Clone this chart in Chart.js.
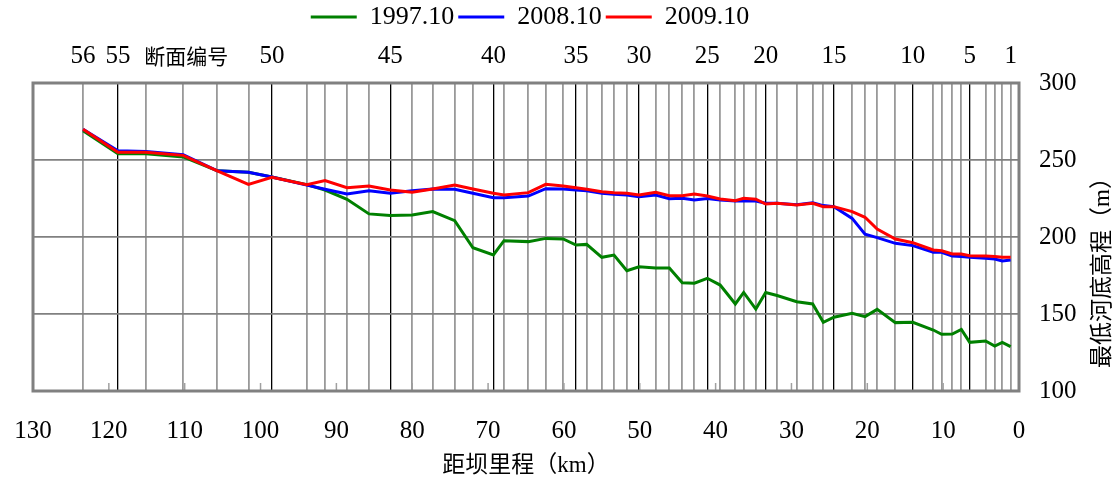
<!DOCTYPE html>
<html>
<head>
<meta charset="utf-8">
<script src="https://cdn.jsdelivr.net/npm/chart.js@4/dist/chart.umd.min.js"></script>
<style>
    body { margin: 0; background: #fff; }
</style>
</head>
<body>
<canvas id="chart1" width="1118" height="484"></canvas>
<script>
// Section numbers and their distance from the dam (km)
let sectionNo = [56,55,54,53,52,51,50,49,48,47,46,45,44,43,42,41,40,39,38,37,36,35,34,33,32,31,30,29,28,27,26,25,24,23,22,21,20,19,18,17,16,15,14,13,12,11,10,9,8,7,6,5,4,3,2,1];
let sectionKm = [123.4,118.8,115.1,110.2,105.7,101.6,98.5,93.9,91.5,88.6,85.7,82.9,80.0,77.3,74.4,72.0,69.3,67.9,64.7,62.4,60.1,58.4,57.0,55.0,53.4,51.7,50.1,47.9,46.1,44.4,42.8,41.1,39.4,37.4,36.3,34.7,33.4,31.9,29.3,27.2,25.8,24.4,22.0,20.3,18.7,16.3,14.0,11.3,10.2,8.8,7.6,6.5,4.4,3.2,2.2,1.1];
let labeledSections = [56,55,50,45,40,35,30,25,20,15,10,5,1];
let sectionTitle = '断面编号';
let sectionTitleKm = 109.8;

// Lowest river bed elevation (m)
let seriesNames = ['1997.10','2008.10','2009.10'];
let bed1997 = [269,254,254,252,243,242,239,234,230.5,224.5,215,214,214.3,216.5,210.6,193,188.3,197.6,197,199.1,198.7,194.8,195.2,186.8,188.3,178.1,180.7,179.9,179.9,170.3,170,173.2,168.8,156.5,164,153.2,163.9,162,158,156.5,144.6,147.9,150.4,148.3,153,144.4,144.6,139.6,136.8,137,140,131.6,132.5,129.2,131.6,128.8];
let bed2008 = [270,256,255.5,253.5,243,242,239,233.7,231,228,230,228.4,230,231.2,231,228.4,225.5,225.5,226.6,231.4,231.2,230.5,230,228.4,227.7,227.3,226.2,227.3,224.9,225.1,224,225,224,223.4,223.6,223.4,221.9,221.9,221,222.2,220.4,219.7,212.1,201.8,199.6,195.9,194.4,190.1,190.1,187.7,187.3,186.8,186.2,185.7,184.4,185];
let bed2009 = [270,255,255,253,243,234.2,238.8,234,236.6,232,233.1,230.5,229,231.2,233.8,231.2,228.4,227.3,228.8,234.2,233.1,232,231,229.4,228.8,228.4,227.3,229,226.8,226.8,227.9,226.6,224.7,223.6,225.1,224.5,221.4,221.9,220.8,221.9,219.7,219.7,216.5,212.8,205.2,198.7,196.3,191.6,191.1,189,189,187.9,187.7,187.3,186.8,186.8];

let xTicks = [130,120,110,100,90,80,70,60,50,40,30,20,10,0];
let yTicks = [100,150,200,250,300];

let serif = "'Liberation Serif', 'Noto Sans CJK SC', serif";
Chart.defaults.font.family = serif;
Chart.defaults.color = '#000';

function toPoints(vals){
    return sectionKm.map((k, i) => ({x: k, y: vals[i]}));
}

function sectionAt(v){
    let i = sectionKm.indexOf(v);
    return i < 0 ? null : sectionNo[i];
}

// Frame, inner tick marks and the right hand title
let framePlugin = {
    id: 'frame',
    afterLayout(chart){
        // centre the legend over the plot, not the canvas
        let a = chart.chartArea;
        chart.legend.left = a.left;
        chart.legend.right = a.right + 8;
    },
    afterDraw(chart){
        let ctx = chart.ctx;
        let a = chart.chartArea;
        let x = chart.scales.x;
        ctx.save();
        ctx.strokeStyle = '#a0a0a0';
        ctx.lineWidth = 1.5;
        for(let v of xTicks){
            let px = x.getPixelForValue(v);
            ctx.beginPath();
            ctx.moveTo(px, a.bottom);
            ctx.lineTo(px, a.bottom - 8);
            ctx.stroke();
        }
        ctx.strokeStyle = '#808080';
        ctx.lineWidth = 3;
        ctx.strokeRect(a.left, a.top, a.right - a.left, a.bottom - a.top);

        ctx.translate(1103, 267);
        ctx.rotate(-Math.PI / 2);
        ctx.fillStyle = '#000';
        ctx.font = '23px ' + serif;
        ctx.textAlign = 'center';
        ctx.textBaseline = 'middle';
        ctx.fillText('最低河底高程（m）', 0, 0);
        ctx.restore();
    }
};

let ctx1 = document.getElementById('chart1');
let chart1 = new Chart(ctx1, {
    type: 'line',
    data: {
        datasets: [{
            label: seriesNames[0],
            data: toPoints(bed1997),
            borderColor: '#008000',
            backgroundColor: '#008000',
            order: 3
        },{
            label: seriesNames[1],
            data: toPoints(bed2008),
            borderColor: '#0000ff',
            backgroundColor: '#0000ff',
            order: 2
        },{
            label: seriesNames[2],
            data: toPoints(bed2009),
            borderColor: '#ff0000',
            backgroundColor: '#ff0000',
            order: 1
        }]
    },
    options: {
        responsive: false,
        animation: false,
        layout: { padding: { left: 33, right: 0, top: 0, bottom: 0 } },
        elements: {
            point: { radius: 0 },
            line: { borderWidth: 3, tension: 0, fill: false }
        },
        plugins: {
            legend: {
                display: true,
                position: 'top',
                labels: {
                    boxWidth: 46,
                    boxHeight: 3,
                    font: { size: 26 },
                    color: '#000',
                    padding: 4,
                    sort: (a, b) => a.datasetIndex - b.datasetIndex,
                    generateLabels: chart => {
                        let items = Chart.defaults.plugins.legend.labels.generateLabels(chart);
                        for(let it of items){
                            it.fillStyle = it.strokeStyle;
                            it.lineWidth = 0;
                        }
                        return items;
                    }
                }
            },
            tooltip: { enabled: false }
        },
        scales: {
            x: {
                type: 'linear',
                position: 'bottom',
                min: 0,
                max: 130,
                reverse: true,
                afterBuildTicks: s => { s.ticks = xTicks.map(v => ({value: v})); },
                afterFit: s => { s.height = 93; s.paddingLeft = 0; s.paddingRight = 0; },
                ticks: { font: { size: 25 }, padding: 25, maxRotation: 0, autoSkip: false },
                grid: { display: false, drawTicks: false },
                border: { display: false },
                title: {
                    display: true,
                    text: '距坝里程（km）',
                    font: { size: 23 },
                    padding: { top: 0, bottom: 4 }
                }
            },
            x2: {
                type: 'linear',
                position: 'top',
                min: 0,
                max: 130,
                reverse: true,
                afterBuildTicks: s => {
                    s.ticks = sectionKm.concat([sectionTitleKm]).map(v => ({value: v}));
                },
                afterFit: s => { s.height -= 11; s.paddingLeft = 0; s.paddingRight = 0; },
                ticks: {
                    font: c => ({ size: (c.tick && c.tick.value === sectionTitleKm) ? 21 : 25 }),
                    padding: 12,
                    maxRotation: 0,
                    minRotation: 0,
                    autoSkip: false,
                    callback: function(v){
                        if(v === sectionTitleKm) return sectionTitle;
                        let n = sectionAt(v);
                        return labeledSections.includes(n) ? String(n) : '';
                    }
                },
                grid: {
                    drawTicks: false,
                    color: c => {
                        let n = sectionAt(c.tick.value);
                        if(n === null) return 'rgba(0,0,0,0)';
                        return (n % 5 === 0) ? '#000' : '#999';
                    },
                    lineWidth: c => {
                        let n = sectionAt(c.tick.value);
                        return (n !== null && n % 5 === 0) ? 1.3 : 1.8;
                    }
                },
                border: { display: false }
            },
            y: {
                type: 'linear',
                position: 'right',
                min: 100,
                max: 300,
                afterBuildTicks: s => { s.ticks = yTicks.map(v => ({value: v})); },
                afterFit: s => { s.width = 99; },
                ticks: { font: { size: 25 }, padding: 20 },
                grid: { color: '#808080', lineWidth: 1.8, drawTicks: false },
                border: { display: false }
            }
        }
    },
    plugins: [framePlugin]
});
</script>
</body>
</html>
